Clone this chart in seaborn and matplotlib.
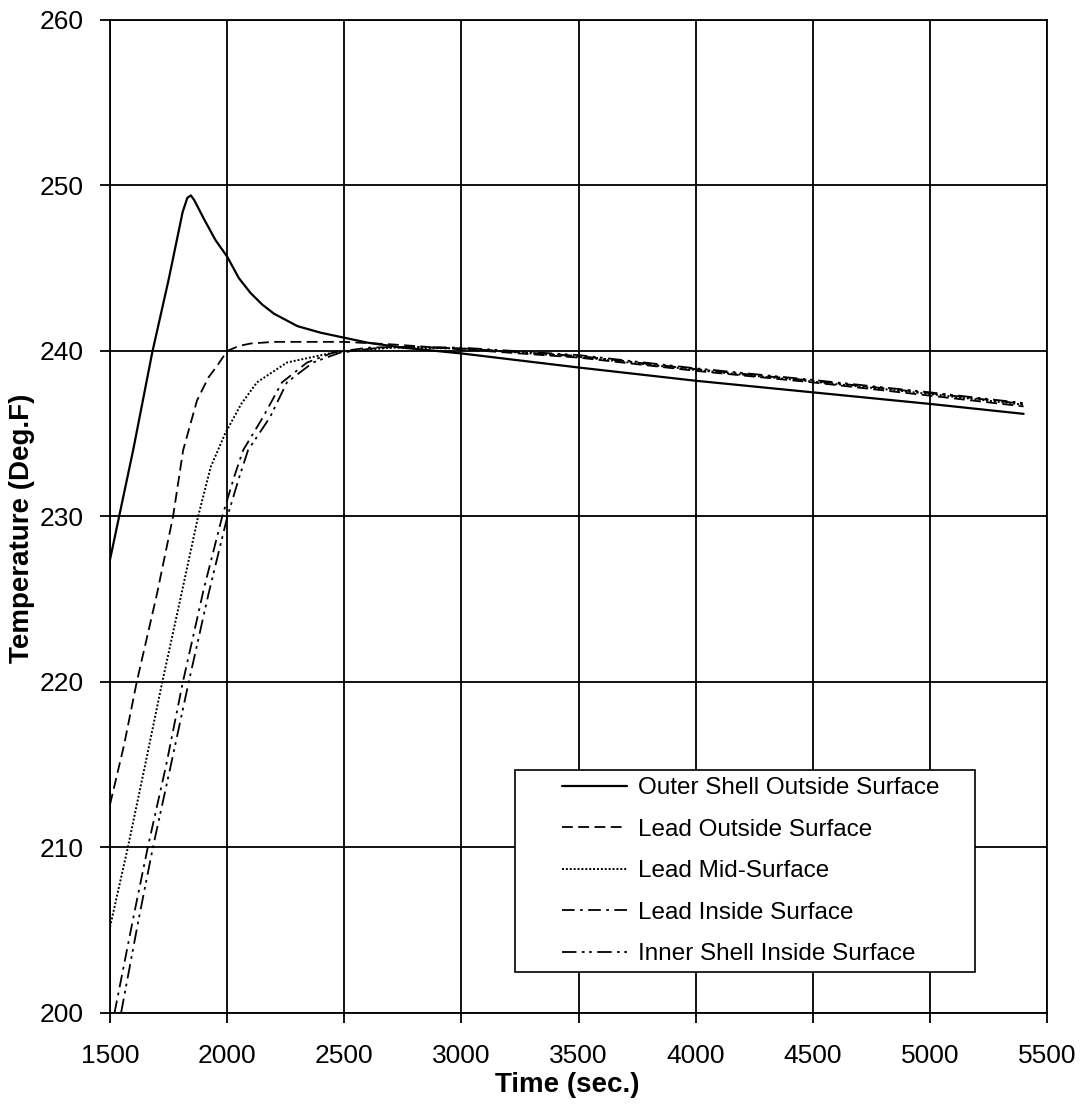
import matplotlib
matplotlib.use("Agg")
import matplotlib.pyplot as plt
import seaborn as sns
from matplotlib.legend_handler import HandlerLine2D

# ---- data ----
outer_t = [1500, 1600, 1680, 1750, 1810, 1830, 1845, 1860, 1900, 1950, 2000, 2050, 2100, 2150, 2200, 2300, 2400, 2500, 2600, 2750, 3000, 3500, 4000, 4500, 5000, 5400]
outer_T = [227.4, 234.1, 239.9, 244.3, 248.4, 249.25, 249.4, 249.1, 248.0, 246.7, 245.7, 244.4, 243.5, 242.8, 242.25, 241.5, 241.1, 240.8, 240.5, 240.2, 239.85, 239.0, 238.2, 237.5, 236.8, 236.2]

lo_t = [1500, 1560, 1614, 1700, 1769, 1812, 1871, 1920, 1957, 2000, 2050, 2100, 2200, 2500, 2700, 3000, 3500, 4000, 4500, 5000, 5400]
lo_T = [212.6, 216.2, 220.0, 225.3, 230.0, 234.0, 237.0, 238.4, 239.1, 240.0, 240.3, 240.45, 240.55, 240.55, 240.4, 240.1, 239.6, 238.8, 238.1, 237.3, 236.65]

lm_t = [1500, 1576, 1650, 1723, 1800, 1876, 1930, 1991, 2060, 2127, 2255, 2452, 2700, 3000, 3500, 4000, 4500, 5000, 5400]
lm_T = [205.2, 210.0, 215.0, 220.0, 225.0, 230.0, 233.0, 235.0, 236.8, 238.1, 239.3, 239.9, 240.2, 240.15, 239.65, 238.85, 238.15, 237.4, 236.75]

li_t = [1519, 1600, 1661, 1740, 1811, 1900, 1979, 2030, 2068, 2153, 2234, 2341, 2452, 2600, 2750, 3000, 3500, 4000, 4500, 5000, 5400]
li_T = [200.0, 205.8, 210.0, 215.0, 220.0, 225.6, 230.0, 232.4, 234.0, 236.0, 238.1, 239.3, 239.9, 240.2, 240.25, 240.15, 239.7, 238.9, 238.2, 237.45, 236.8]

is_t = [1547, 1620, 1683, 1760, 1836, 1920, 2001, 2050, 2089, 2183, 2255, 2366, 2482, 2620, 2770, 3000, 3500, 4000, 4500, 5000, 5400]
is_T = [200.0, 205.5, 210.0, 215.0, 220.0, 225.3, 230.0, 232.3, 234.0, 236.0, 238.1, 239.3, 239.9, 240.15, 240.25, 240.2, 239.75, 238.95, 238.25, 237.5, 236.85]

labels = ["Outer Shell Outside Surface", "Lead Outside Surface", "Lead Mid-Surface",
          "Lead Inside Surface", "Inner Shell Inside Surface"]
x_ticks = [1500, 2000, 2500, 3000, 3500, 4000, 4500, 5000, 5500]
y_ticks = [200, 210, 220, 230, 240, 250, 260]

# ---- style ----
sns.set_style("ticks")
plt.rcParams['font.family'] = ['Liberation Sans', 'DejaVu Sans']
plt.rcParams['text.color'] = 'black'
plt.rcParams['axes.labelcolor'] = 'black'
plt.rcParams['xtick.color'] = 'black'
plt.rcParams['ytick.color'] = 'black'

fig = plt.figure(figsize=(10.82, 11.09), dpi=100)
ax = fig.add_axes([0.1017, 0.0866, 0.866, 0.8954])

series = [
    (outer_t, outer_T, "-", 1.6),
    (lo_t, lo_T, (0, (6, 3)), 1.3),
    (lm_t, lm_T, (0, (1, 1)), 1.4),
    (li_t, li_T, (0, (7, 3, 1.5, 3)), 1.3),
    (is_t, is_T, (0, (8, 3, 1.5, 2.5, 1.5, 3)), 1.3),
]
for (t, T, ls, lw), lab in zip(series, labels):
    sns.lineplot(x=t, y=T, ax=ax, color="black", linestyle=ls, linewidth=lw,
                 label=lab, sort=True, estimator=None)

ax.set_xlim(1500, 5500)
ax.set_ylim(200, 260)
ax.set_xticks(x_ticks)
ax.set_yticks(y_ticks)
ax.grid(True, color="black", linewidth=1.3)
for s in ax.spines.values():
    s.set_color("black")
    s.set_linewidth(1.3)
ax.tick_params(axis="both", direction="out", length=7, width=1.3, color="black",
               labelsize=19, labelcolor="black")
ax.tick_params(axis="x", pad=15)
ax.tick_params(axis="y", pad=12)
ax.set_xlabel("Time (sec.)", fontsize=20, fontweight="bold")
ax.set_ylabel("Temperature (Deg.F)", fontsize=20, fontweight="bold")
ax.xaxis.set_label_coords(0.488, -0.0595)
ax.yaxis.set_label_coords(-0.080, 0.488)


class ShiftedLine(HandlerLine2D):
    """Legend line drawn in the right part of the handle area (left padding)."""
    def __init__(self, shift, **kw):
        super().__init__(**kw)
        self.shift = shift

    def create_artists(self, legend, orig_handle, xdescent, ydescent, width,
                       height, fontsize, trans):
        return super().create_artists(legend, orig_handle, xdescent - self.shift,
                                      ydescent, width - self.shift, height,
                                      fontsize, trans)


handles, labs = ax.get_legend_handles_labels()
fs = 17.5
pt_per_px = 72.0 / 100.0
shift_pt = 40.0 * pt_per_px
line_pt = 65.0 * pt_per_px
hmap = {h: ShiftedLine(shift_pt) for h in handles}
leg = ax.legend(handles, labs, loc="upper left",
                bbox_to_anchor=(0.4322, 0.0, 0.491, 0.2447), mode="expand",
                fontsize=fs, frameon=True, fancybox=False, shadow=False,
                framealpha=1, edgecolor="black",
                handlelength=(shift_pt + line_pt) / fs,
                handletextpad=0.42, labelspacing=0.8, borderpad=0.3,
                borderaxespad=0, handler_map=hmap, numpoints=1)
leg.get_frame().set_linewidth(1.2)

fig.savefig("out.png", dpi=100, facecolor="white")
